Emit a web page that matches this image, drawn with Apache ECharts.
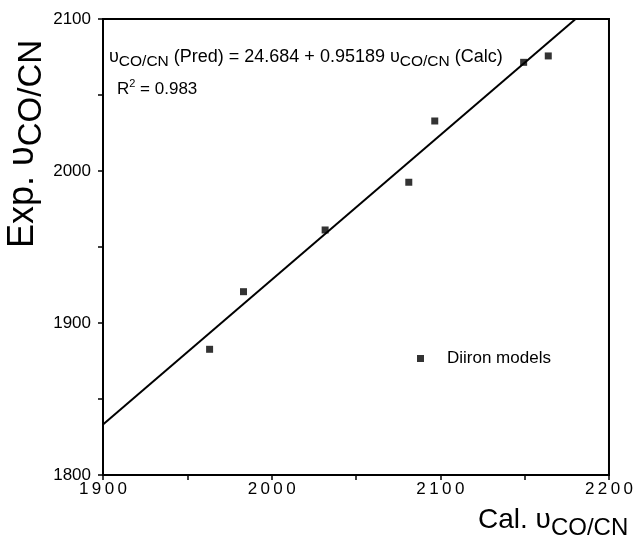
<!DOCTYPE html>
<html>
<head>
<meta charset="utf-8">
<script src="https://cdn.jsdelivr.net/npm/echarts@6/dist/echarts.min.js"></script>
<style>
	html, body { margin: 0; padding: 0; background: #fff; }
	#chart { width: 636px; height: 547px; }
</style>
</head>
<body>
<div id="chart"></div>
<script>
// 数据
var calcX = [1963.2, 1983.3, 2031.7, 2081.3, 2096.7, 2149.4, 2164.0];
var expY = [1882.7, 1920.6, 1961.2, 1992.6, 2032.9, 2071.5, 2075.7];
// 回归线 y = a + b x
var fitA = 24.684;
var fitB = 0.95189;
var fitX = [1900, 2180.2];
var xTicks = [1900, 2200, 100];
var yTicks = [1800, 2100, 100];

var font = 'Liberation Sans, Arial, sans-serif';

var points = calcX.map(function(x, i) { return [x, expY[i]]; });
var fitLine = fitX.map(function(x) { return [x, fitA + fitB * x]; });

var myChart = echarts.init(document.getElementById('chart'));
var option = {
	animation: false,
	backgroundColor: '#fff',
	grid: {
		left: 103,
		top: 19,
		right: 25,
		bottom: 72,
		show: true,
		borderColor: '#000',
		borderWidth: 2
	},
	legend: {
		data: ['Diiron models'],
		left: 412,
		top: 345,
		icon: 'rect',
		itemWidth: 7,
		itemHeight: 7,
		textStyle: {
			fontFamily: font,
			fontSize: 17,
			color: '#000',
			padding: [0, 0, 0, 18]
		}
	},
	xAxis: {
		type: 'value',
		min: xTicks[0],
		max: xTicks[1],
		interval: xTicks[2],
		axisLine: { lineStyle: { color: '#000', width: 2 } },
		axisTick: { show: true, length: 5, lineStyle: { color: '#000', width: 1.5 } },
		minorTick: { show: true, splitNumber: 2, length: 5, lineStyle: { color: '#000', width: 1.5 } },
		splitLine: { show: false },
		axisLabel: {
			color: '#000',
			fontFamily: font,
			fontSize: 17,
			margin: 6,
			// 数字之间留细空
			formatter: function(v) { return String(v).split('').join('\u2009'); }
		}
	},
	yAxis: {
		type: 'value',
		min: yTicks[0],
		max: yTicks[1],
		interval: yTicks[2],
		axisLine: { show: true, lineStyle: { color: '#000', width: 2 } },
		axisTick: { show: true, length: 5, lineStyle: { color: '#000', width: 1.5 } },
		minorTick: { show: true, splitNumber: 2, length: 5, lineStyle: { color: '#000', width: 1.5 } },
		splitLine: { show: false },
		axisLabel: {
			color: '#000',
			fontFamily: font,
			fontSize: 17,
			margin: 12,
			formatter: function(v) { return String(v); }
		}
	},
	series: [{
		name: 'Diiron models',
		type: 'scatter',
		symbol: 'rect',
		symbolSize: 7,
		itemStyle: { color: '#000' },
		data: points,
		z: 3
	}, {
		name: 'fit',
		type: 'line',
		symbol: 'none',
		lineStyle: { color: '#000', width: 2 },
		data: fitLine,
		z: 2
	}],
	graphic: [{
		type: 'text',
		left: 109,
		top: 48,
		style: {
			text: '{m|υ}{s|CO/CN}{m| (Pred) = 24.684 + 0.95189 υ}{s|CO/CN}{m| (Calc)}',
			rich: {
				m: { fontFamily: font, fontSize: 18, fill: '#000', verticalAlign: 'bottom' },
				s: { fontFamily: font, fontSize: 15.5, fill: '#000', verticalAlign: 'bottom', padding: [0, 0, -4, 0] }
			}
		}
	}, {
		type: 'text',
		left: 117,
		top: 78,
		style: {
			text: '{m|R}{p|2}{m| = 0.983}',
			rich: {
				m: { fontFamily: font, fontSize: 17, fill: '#000', verticalAlign: 'bottom' },
				p: { fontFamily: font, fontSize: 11, fill: '#000', verticalAlign: 'bottom', padding: [0, 0, 9, 0] }
			}
		}
	}, {
		type: 'text',
		left: 478,
		top: 506,
		style: {
			text: '{m|Cal. υ}{s|CO/CN}',
			rich: {
				m: { fontFamily: font, fontSize: 28, fill: '#000', verticalAlign: 'bottom' },
				s: { fontFamily: font, fontSize: 24, fill: '#000', verticalAlign: 'bottom', padding: [0, 0, -6, 0] }
			}
		}
	}, {
		type: 'text',
		x: 5,
		y: 248,
		rotation: Math.PI / 2,
		style: {
			text: '{m|Exp. υ}{s|CO/CN}',
			rich: {
				m: { fontFamily: font, fontSize: 36, fill: '#000', verticalAlign: 'bottom' },
				s: { fontFamily: font, fontSize: 33, fill: '#000', verticalAlign: 'bottom', padding: [0, 0, -7, 0] }
			}
		}
	}]
};
myChart.setOption(option);
</script>
</body>
</html>
